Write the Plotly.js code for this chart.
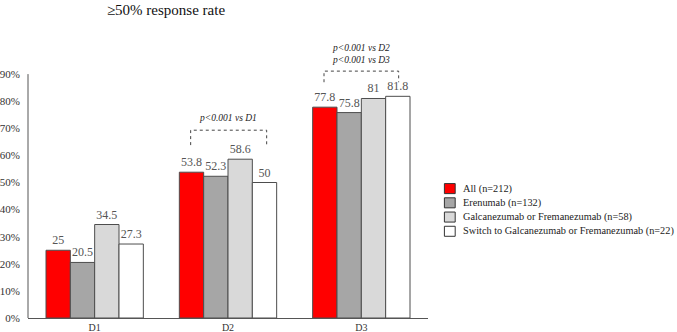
<!DOCTYPE html>
<html>
<head>
<meta charset="utf-8">
<script src="https://cdn.plot.ly/plotly-3.0.1.min.js"></script>
<style>html,body{margin:0;padding:0;background:#fff;}#chart{width:677px;height:332px;}</style>
</head>
<body>
<div id="chart"></div>
<script>
// Doses / time points
const categories = ['D1', 'D2', 'D3'];

// ≥50% response rate (%) per group
const seriesNames = [
  'All (n=212)',
  'Erenumab (n=132)',
  'Galcanezumab or Fremanezumab (n=58)',
  'Switch to Galcanezumab or Fremanezumab (n=22)'
];
const allPatients = [25, 53.8, 77.8];
const erenumab = [20.5, 52.3, 75.8];
const galcaFrema = [34.5, 58.6, 81];
const switchGalcaFrema = [27.3, 50, 81.8];

const seriesValues = [allPatients, erenumab, galcaFrema, switchGalcaFrema];
const seriesColors = ['#ff0000', '#a6a6a6', '#d9d9d9', '#ffffff'];

const yTickVals = [0, 10, 20, 30, 40, 50, 60, 70, 80, 90];
const yTickText = yTickVals.map(v => v + '%');

const serif = '"Liberation Serif", "Times New Roman", Times, serif';
const outline = '#4d4d4d';

const traces = seriesValues.map((vals, i) => ({
  type: 'bar',
  name: seriesNames[i],
  x: categories,
  y: vals,
  text: vals.map(String),
  textposition: 'outside',
  cliponaxis: false,
  textfont: {family: serif, size: 12, color: '#555'},
  marker: {color: seriesColors[i], line: {color: outline, width: 1}},
  hoverinfo: 'skip'
}));

// Key to the right of the plot: square swatch + label per series
const keyShapes = [];
const keyLabels = [];
seriesNames.forEach((name, i) => {
  const yc = 0.4775 - i * 0.0525;   // paper units, ~14px per row
  keyShapes.push({
    type: 'rect', xref: 'paper', yref: 'paper',
    x0: 1.041, x1: 1.068, y0: yc - 0.0185, y1: yc + 0.0185,
    fillcolor: seriesColors[i], line: {color: '#333', width: 1}
  });
  keyLabels.push({
    xref: 'paper', yref: 'paper', x: 1.0825, y: yc,
    xanchor: 'left', yanchor: 'middle', showarrow: false,
    text: name, font: {family: serif, size: 10.3, color: '#222'}
  });
});

const layout = {
  width: 677,
  height: 332,
  margin: {l: 28, r: 249, t: 47, b: 14},
  paper_bgcolor: '#fff',
  plot_bgcolor: '#fff',
  barmode: 'group',
  bargap: 0.27,
  bargroupgap: 0,
  showlegend: false,
  font: {family: serif, color: '#333'},
  title: {
    text: '≥50% response rate',
    font: {family: serif, size: 15, color: '#111'},
    xref: 'paper', x: 0.345, xanchor: 'center',
    yref: 'container', y: 0.97, yanchor: 'middle'
  },
  xaxis: {
    range: [-0.5, 2.5],
    showline: true, linecolor: '#555', linewidth: 1,
    showgrid: false, zeroline: false, ticks: '',
    tickfont: {family: serif, size: 10, color: '#333'},
    ticklabelstandoff: 0
  },
  yaxis: {
    range: [0, 100],
    tickvals: yTickVals, ticktext: yTickText,
    showline: false, showgrid: false, zeroline: false, ticks: '',
    tickfont: {family: serif, size: 11, color: '#333'},
    ticklabelstandoff: 7
  },
  shapes: [
    // y axis line up to 90%
    {type: 'line', xref: 'paper', yref: 'y', x0: 0, x1: 0, y0: 0, y1: 90,
     line: {color: '#555', width: 1}},
    // D2 bracket
    {type: 'path', xref: 'x', yref: 'y', layer: 'above',
     path: 'M 0.72,63.8 L 0.72,69.3 L 1.29,69.3 L 1.29,63.8',
     line: {color: '#444', width: 1, dash: 'dot'}},
    // D3 bracket
    {type: 'path', xref: 'x', yref: 'y', layer: 'above',
     path: 'M 1.72,87 L 1.72,91.1 L 2.28,91.1 L 2.28,87',
     line: {color: '#444', width: 1, dash: 'dot'}}
  ].concat(keyShapes),
  annotations: [
    {xref: 'x', yref: 'y', x: 1, y: 71.3, yanchor: 'bottom', showarrow: false,
     text: '<i>p&lt;0.001 vs D1</i>', font: {family: serif, size: 9.5, color: '#222'}},
    {xref: 'x', yref: 'y', x: 2, y: 92.6, yanchor: 'bottom', showarrow: false,
     text: '<i>p&lt;0.001 vs D2<br>p&lt;0.001 vs D3</i>', font: {family: serif, size: 9.5, color: '#222'}}
  ].concat(keyLabels)
};

Plotly.newPlot('chart', traces, layout, {staticPlot: true, displayModeBar: false});
</script>
</body>
</html>
